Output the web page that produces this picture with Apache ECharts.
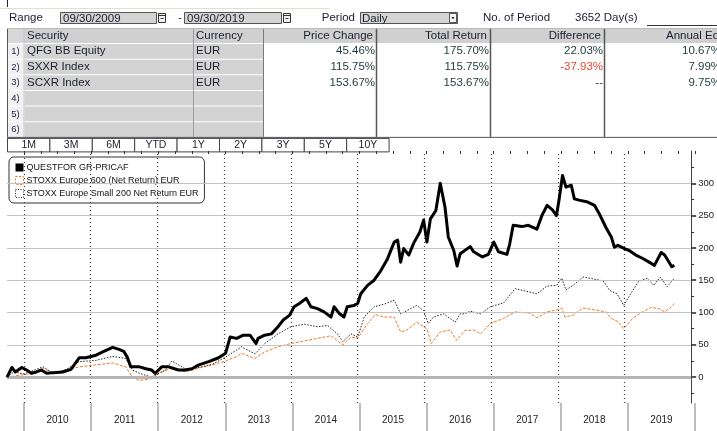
<!DOCTYPE html>
<html><head><meta charset="utf-8">
<script src="https://cdn.jsdelivr.net/npm/echarts@6/dist/echarts.min.js"></script>
<style>html,body{margin:0;padding:0;background:#fff}#c{width:717px;height:431px}</style>
</head><body><div id="c"></div>
<script>
// ---------------- data ----------------
const dateFrom = '09/30/2009';
const dateTo = '09/30/2019';
const periodType = 'Daily';
const periodCount = '3652 Day(s)';
const headerCols = ['Security', 'Currency', 'Price Change', 'Total Return', 'Difference', 'Annual Eq'];
const securities = ['QFG BB Equity', 'SXXR Index', 'SCXR Index'];
const currencies = ['EUR', 'EUR', 'EUR'];
const priceChange = ['45.46%', '115.75%', '153.67%'];
const totalReturn = ['175.70%', '115.75%', '153.67%'];
const difference = ['22.03%', '-37.93%', '--'];
const annualEq = ['10.67%', '7.99%', '9.75%'];
const periodButtons = ['1M', '3M', '6M', 'YTD', '1Y', '2Y', '3Y', '5Y', '10Y'];
const years = ['2010', '2011', '2012', '2013', '2014', '2015', '2016', '2017', '2018', '2019'];
const yearStarts = ['2010-01-01', '2011-01-01', '2012-01-01', '2013-01-01', '2014-01-01', '2015-01-01', '2016-01-01', '2017-01-01', '2018-01-01', '2019-01-01'];
const yLabels = [0, 50, 100, 150, 200, 250, 300];
const yGridValues = [50, 100, 150, 200, 250, 300];
const yMinorTicks = [-25, 25, 75, 125, 175, 225, 275, 325];
const seriesNames = ['QUESTFOR GR-PRICAF', 'STOXX Europe 600 (Net Return) EUR', 'STOXX Europe Small 200 Net Return EUR'];

const qfgDates = ['2009-09-30','2009-10-27','2009-11-14','2009-12-20','2010-01-15','2010-02-10','2010-03-10','2010-04-05','2010-05-05','2010-06-10','2010-08-01','2010-09-15','2010-10-30','2010-12-05','2011-01-30','2011-03-08','2011-05-01','2011-06-05','2011-07-01','2011-07-20','2011-08-08','2011-09-25','2011-10-30','2011-12-01','2011-12-20','2012-01-25','2012-03-03','2012-04-25','2012-06-01','2012-07-08','2012-08-15','2012-10-08','2012-12-01','2013-01-08','2013-02-02','2013-03-10','2013-04-15','2013-05-22','2013-06-24','2013-07-05','2013-08-10','2013-09-16','2013-10-22','2013-11-18','2013-12-25','2014-01-18','2014-02-16','2014-03-25','2014-04-20','2014-05-26','2014-07-01','2014-08-08','2014-08-25','2014-09-24','2014-10-18','2014-11-05','2014-12-12','2015-01-01','2015-01-18','2015-02-24','2015-04-01','2015-05-08','2015-06-13','2015-07-20','2015-08-08','2015-08-24','2015-09-10','2015-10-08','2015-11-03','2015-12-08','2015-12-28','2016-01-15','2016-02-03','2016-03-04','2016-03-28','2016-04-23','2016-05-11','2016-06-10','2016-06-28','2016-07-15','2016-09-08','2016-09-27','2016-11-14','2016-12-16','2017-01-15','2017-02-10','2017-03-28','2017-04-12','2017-05-01','2017-06-18','2017-07-23','2017-09-08','2017-10-05','2017-11-03','2017-12-02','2017-12-24','2018-01-08','2018-01-26','2018-02-14','2018-03-15','2018-04-01','2018-04-26','2018-06-13','2018-07-20','2018-08-15','2018-09-20','2018-10-20','2018-11-06','2018-11-25','2018-12-31','2019-01-26','2019-03-03','2019-04-08','2019-05-15','2019-06-13','2019-07-20','2019-08-08','2019-09-16','2019-09-30'];
const qfgValues = [0,15,8,15,11,6,8,11,6,7,8,12,30,30,34,39,46,43,40,31,16,16,13,11,6,16,16,11,11,13,19,24,30,37,62,60,65,65,52,60,65,67,78,88,96,109,114,122,109,106,101,93,109,98,93,109,111,114,129,142,150,165,183,209,212,178,199,189,207,225,243,209,245,258,300,263,217,196,172,191,202,194,186,190,209,194,190,206,235,233,235,229,250,266,259,250,276,312,294,297,276,274,271,266,253,232,217,201,204,199,196,189,184,178,173,193,189,171,173];

const sxxrDates = ['2009-09-30','2010-02-20','2010-04-15','2010-06-10','2010-08-20','2010-10-30','2011-01-30','2011-05-01','2011-07-12','2011-08-18','2011-09-25','2011-11-18','2012-01-08','2012-03-20','2012-06-01','2012-08-15','2012-10-28','2013-01-08','2013-03-10','2013-04-05','2013-06-18','2013-08-10','2013-10-22','2014-01-01','2014-03-15','2014-05-26','2014-08-08','2014-10-12','2014-11-25','2015-01-01','2015-02-24','2015-04-08','2015-05-26','2015-07-20','2015-08-24','2015-09-28','2015-11-20','2016-01-15','2016-02-08','2016-03-28','2016-05-22','2016-06-25','2016-08-08','2016-09-27','2016-11-03','2016-12-28','2017-03-10','2017-05-12','2017-07-30','2017-09-08','2017-11-03','2017-12-24','2018-01-22','2018-02-09','2018-03-25','2018-05-18','2018-07-27','2018-09-20','2018-10-20','2018-11-25','2018-12-27','2019-02-14','2019-04-08','2019-05-26','2019-07-08','2019-08-08','2019-09-03','2019-09-30'];
const sxxrValues = [0,6,14,6,11,16,19,22,16,0,-5,-3,6,14,8,14,19,25,32,37,29,39,47,52,56,60,64,50,62,60,83,97,93,93,70,73,85,75,52,70,73,57,72,73,67,83,91,101,99,92,101,104,107,93,96,107,104,101,91,86,75,91,101,108,106,101,106,114];

const scxrDates = ['2009-09-30','2009-11-06','2010-01-01','2010-04-15','2010-06-10','2010-08-20','2010-10-30','2011-01-30','2011-05-01','2011-07-12','2011-08-18','2011-09-25','2011-12-01','2012-02-14','2012-03-20','2012-06-01','2012-08-15','2012-10-28','2013-01-08','2013-03-10','2013-04-05','2013-06-18','2013-08-10','2013-10-22','2014-01-01','2014-03-15','2014-05-26','2014-07-20','2014-09-12','2014-10-12','2014-11-25','2015-01-01','2015-02-06','2015-04-01','2015-05-26','2015-07-20','2015-08-24','2015-09-28','2015-11-20','2015-12-28','2016-01-22','2016-02-20','2016-04-15','2016-06-18','2016-07-15','2016-08-08','2016-09-08','2016-11-03','2016-12-28','2017-03-10','2017-05-12','2017-07-12','2017-09-08','2017-11-03','2017-12-24','2018-01-22','2018-02-14','2018-03-25','2018-05-18','2018-06-25','2018-09-05','2018-10-12','2018-11-20','2018-12-27','2019-02-03','2019-03-18','2019-05-05','2019-06-10','2019-07-15','2019-08-22','2019-09-30'];
const scxrValues = [0,8,5,16,6,12,24,26,32,29,11,6,0,11,25,13,15,20,31,42,47,36,52,67,78,82,78,80,67,55,67,62,93,109,113,119,98,103,111,103,83,93,98,85,98,98,102,98,109,115,137,133,129,141,142,153,135,142,155,153,149,134,129,111,129,148,153,142,155,140,153];

// ---------------- header drawing ----------------
const FF = '"Liberation Sans", Arial, sans-serif';
const g = [];
function R(x, y, w, h, fill, stroke, lw) {
  g.push({ type: 'rect', silent: true, shape: { x: x, y: y, width: w, height: h },
    style: { fill: fill || 'none', stroke: stroke || null, lineWidth: lw || 1 } });
}
function L(x1, y1, x2, y2, c, lw) {
  g.push({ type: 'line', silent: true, shape: { x1: x1, y1: y1, x2: x2, y2: y2 },
    style: { stroke: c, lineWidth: lw || 1 } });
}
function T(x, y, s, size, color, align) {
  g.push({ type: 'text', silent: true, x: x, y: y,
    style: { text: s, fill: color || '#1b1f2e', font: size + 'px ' + FF, align: align || 'left', verticalAlign: 'middle' } });
}
function calIcon(x) {
  R(x + 0.5, 13.5, 7, 9, '#f3f3f3', '#333', 1);
  L(x + 0.5, 15.5, x + 7.5, 15.5, '#333', 1);
  L(x + 2.5, 18.5, x + 5.5, 18.5, '#333', 1);
}
// top strip
L(0, 8.5, 330, 8.5, '#e4ddd2', 1);
L(7.5, 0, 7.5, 7, '#222', 1);
// range row
T(9, 18, 'Range', 11.5);
R(60.5, 12.5, 96, 11, '#d4d4d4', '#555', 1);
T(63, 18.5, dateFrom, 11.5);
calIcon(158);
T(178, 18, '-', 11.5);
R(184.5, 12.5, 97, 11, '#d4d4d4', '#555', 1);
T(187, 18.5, dateTo, 11.5);
calIcon(283);
T(355, 18, 'Period', 11.5, '#1b1f2e', 'right');
R(360.5, 12.5, 97, 11, '#d4d4d4', '#555', 1);
T(362, 18.5, periodType, 11.5);
R(449.5, 13.5, 7, 9, '#f6f6f6', '#555', 1);
g.push({ type: 'polygon', silent: true, shape: { points: [[451.5, 17], [454.5, 17], [453, 19.5]] }, style: { fill: '#222' } });
T(483, 18, 'No. of Period', 11.5);
T(575, 18, periodCount, 11.5);
L(647, 25.5, 717, 25.5, '#333', 1);

// table
const rowH = 15.65, tTop = 28, hdrH = 15;
R(7, tTop, 710, hdrH, '#d0d0d0');
R(7, tTop, 17, hdrH, '#d8d8d8');
for (let i = 0; i < 6; i++) {
  const y0 = tTop + hdrH + i * rowH;
  R(7, y0 + 1, 17, rowH - 1, '#f1f1f1');
  R(24.5, y0 + 1, 168.5, rowH - 1, '#d3d3d3');
  R(194, y0 + 1, 69, rowH - 1, '#d3d3d3');
  T(15.5, y0 + rowH / 2 + 0.5, (i + 1) + ')', 9.5, '#1f2244', 'center');
}
const tBottom = tTop + hdrH + 6 * rowH;
L(7.5, tTop, 7.5, tBottom, '#555', 1);
L(24, tTop, 24, tBottom, '#c6c6c6', 1);
L(193.5, tTop, 193.5, tBottom, '#9a9a9a', 1);
L(263.5, tTop, 263.5, tBottom, '#7a7a7a', 1);
[376.5, 490.5, 604.5].forEach(x => L(x, tTop, x, tBottom, '#555', 1.5));
L(7, tTop + 0.5, 717, tTop + 0.5, '#bbb', 1);
L(7, tBottom + 0.5, 717, tBottom + 0.5, '#555', 1);
const hy = tTop + hdrH / 2 + 0.5;
T(27, hy, headerCols[0], 11.5);
T(196, hy, headerCols[1], 11.5);
T(373, hy, headerCols[2], 11.5, '#1b1f2e', 'right');
T(487, hy, headerCols[3], 11.5, '#1b1f2e', 'right');
T(601, hy, headerCols[4], 11.5, '#1b1f2e', 'right');
T(666, hy, headerCols[5], 11.5);
for (let i = 0; i < securities.length; i++) {
  const yc = tTop + hdrH + i * rowH + rowH / 2 + 0.5;
  T(27, yc, securities[i], 11.5);
  T(196, yc, currencies[i], 11.5);
  T(375, yc, priceChange[i], 11.5, '#1e3a3a', 'right');
  T(489, yc, totalReturn[i], 11.5, '#1e3a3a', 'right');
  T(603, yc, difference[i], 11.5, difference[i].charAt(0) === '-' && difference[i] !== '--' ? '#e8452f' : '#1e3a3a', 'right');
  T(721, yc, annualEq[i], 11.5, '#1e3a3a', 'right');
}
// period buttons
const bw = 42.4, by = tBottom + 1;
periodButtons.forEach((b, i) => {
  R(7.5 + i * bw, by + 0.5, bw, 13.5, '#ffffff', '#444', 1);
  T(7.5 + i * bw + bw / 2, by + 7.5, b, 10.5, '#1b1f2e', 'center');
});

// ---------------- chart ----------------
const zip = (d, v) => d.map((x, i) => [x, v[i]]);
const chart = echarts.init(document.getElementById('c'), null, { renderer: 'canvas' });
const gridTop = 151, gridBottom = 28;
const vDotted = { type: [1, 3], color: '#3a3a3a', width: 1.2 };
const hLine = { type: 'solid', color: '#c2c2c2', width: 1 };
const gridMarks = yearStarts.map(d => ({ xAxis: d, lineStyle: vDotted }))
  .concat(yGridValues.map(v => ({ yAxis: v, lineStyle: hLine })))
  .concat([{ yAxis: 0, lineStyle: { type: 'solid', color: '#b5b5b5', width: 3 } }]);
chart.setOption({
  animation: false,
  backgroundColor: '#ffffff',
  textStyle: { fontFamily: FF },
  graphic: g,
  grid: [
    { left: 7, right: 22, top: gridTop, bottom: gridBottom, containLabel: false },
    { left: 24, right: 22, top: gridTop, bottom: gridBottom, containLabel: false }
  ],
  legend: {
    orient: 'vertical', left: 9, top: 157,
    backgroundColor: '#ffffff', borderColor: '#333', borderWidth: 1, borderRadius: 5,
    padding: [6, 6, 5, 6], itemWidth: 8, itemHeight: 8, itemGap: 4,
    textStyle: { fontSize: 9, color: '#111', fontFamily: FF, padding: [0, 0, 0, -2] },
    data: [
      { name: seriesNames[0], icon: 'rect', itemStyle: { color: '#000', borderWidth: 0 } },
      { name: seriesNames[1], icon: 'rect', itemStyle: { color: '#fff', borderColor: '#f47a20', borderWidth: 1, borderType: [2, 1.5] } },
      { name: seriesNames[2], icon: 'rect', itemStyle: { color: '#fff', borderColor: '#222', borderWidth: 1, borderType: [1, 1.5] } }
    ]
  },
  xAxis: [
    { type: 'time', gridIndex: 0, min: '2009-09-30', max: '2019-12-31',
      axisLine: { show: true, lineStyle: { color: '#333', width: 1 } },
      axisTick: { show: false }, axisLabel: { show: false }, splitLine: { show: false } },
    { type: 'category', gridIndex: 1, data: years, boundaryGap: true,
      axisLine: { show: false },
      axisTick: { show: true, length: 28, lineStyle: { color: '#a8a8a8', width: 1.5 } },
      axisLabel: { margin: 12, fontSize: 10, color: '#222', fontFamily: FF },
      splitLine: { show: false } },
    { type: 'value', gridIndex: 1, min: 0, max: 40, interval: 1,
      axisLine: { show: false },
      axisTick: { show: true, inside: true, length: 3, lineStyle: { color: '#333' } },
      axisLabel: { show: false }, splitLine: { show: false } }
  ],
  yAxis: [
    { type: 'value', gridIndex: 0, position: 'right', min: -40, max: 350,
      axisLine: { show: true, lineStyle: { color: '#444', width: 1 } },
      axisTick: { show: true, customValues: yLabels, length: 5, lineStyle: { color: '#222', width: 1.5 } },
      axisLabel: { customValues: yLabels, margin: 7, fontSize: 9.5, color: '#222', fontFamily: FF },
      splitLine: { show: false } },
    { type: 'value', gridIndex: 0, position: 'right', min: -40, max: 350,
      axisLine: { show: false },
      axisTick: { show: true, customValues: yMinorTicks, length: 3, lineStyle: { color: '#333' } },
      axisLabel: { show: false }, splitLine: { show: false } },
    { type: 'value', gridIndex: 1, min: 0, max: 1, show: false }
  ],
  series: [
    { type: 'line', name: seriesNames[1], xAxisIndex: 0, yAxisIndex: 0, data: zip(sxxrDates, sxxrValues),
      showSymbol: false, z: 2, lineStyle: { color: '#f47a20', width: 1, type: [3, 1.5] },
      markLine: { silent: true, symbol: 'none', label: { show: false }, animation: false, data: gridMarks } },
    { type: 'line', name: seriesNames[2], xAxisIndex: 0, yAxisIndex: 0, data: zip(scxrDates, scxrValues),
      showSymbol: false, z: 4, lineStyle: { color: '#222', width: 1, type: [1.5, 1.5] } },
    { type: 'line', name: seriesNames[0], xAxisIndex: 0, yAxisIndex: 0, data: zip(qfgDates, qfgValues),
      showSymbol: false, z: 5, lineStyle: { color: '#000', width: 3, join: 'round' } }
  ]
});
</script></body></html>
